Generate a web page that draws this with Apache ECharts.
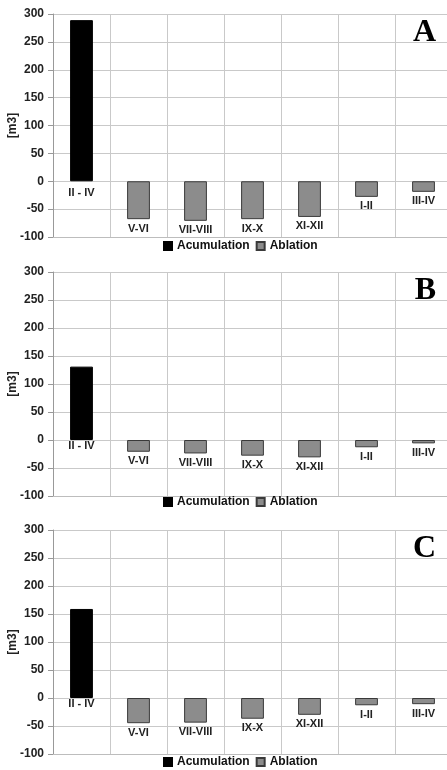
<!DOCTYPE html>
<html>
<head>
<meta charset="utf-8">
<script src="https://cdn.jsdelivr.net/npm/echarts@6/dist/echarts.min.js"></script>
<style>
html,body{margin:0;padding:0;background:#fff;}
#c{width:447px;height:770px;}
</style>
</head>
<body>
<div id="c"></div>
<script>
// ---- data ----
const categories = ['II - IV', 'V-VI', 'VII-VIII', 'IX-X', 'XI-XII', 'I-II', 'III-IV'];
const panelLetters = ['A', 'B', 'C'];
const seriesNames = ['Acumulation', 'Ablation'];
const yTicks = { min: -100, max: 300, interval: 50 };
const accumulationA = [289, null, null, null, null, null, null];
const ablationA     = [null, -68, -71, -68, -64, -28, -19];
const accumulationB = [131, null, null, null, null, null, null];
const ablationB     = [null, -21, -24, -28, -31, -13, -6];
const accumulationC = [159, null, null, null, null, null, null];
const ablationC     = [null, -45, -44, -37, -30, -13, -11];
const accumulations = [accumulationA, accumulationB, accumulationC];
const ablations = [ablationA, ablationB, ablationC];

// ---- layout / style ----
const FONT = '"Liberation Sans", Arial, sans-serif';
const gridTops = [14, 272, 530];
const gridHeights = [223, 224, 224];
const legendTops = [240, 496, 756];
const accLabelOffsets = [[0, 2], [0, -4], [0, -4]];
const GRID_LEFT = 53, GRID_WIDTH = 399;
const LINE = '#c9c9c9';

const grids = [], xAxes = [], yAxes = [], series = [], legends = [], graphics = [];
for (let i = 0; i < 3; i++) {
  grids.push({ left: GRID_LEFT, top: gridTops[i], width: GRID_WIDTH, height: gridHeights[i],
               containLabel: false, outerBoundsMode: 'none' });
  xAxes.push({
    type: 'category', gridIndex: i, data: categories,
    axisLabel: { show: false }, axisTick: { show: false },
    axisLine: { show: true, onZero: false, lineStyle: { color: '#bdbdbd', width: 1 } },
    splitLine: { show: true, lineStyle: { color: LINE, width: 1 } }
  });
  yAxes.push({
    type: 'value', gridIndex: i, min: yTicks.min, max: yTicks.max, interval: yTicks.interval,
    name: '[m3]', nameLocation: 'middle', nameGap: 34, nameMoveOverlap: false,
    nameTextStyle: { fontFamily: FONT, fontWeight: 'bold', fontSize: 12, color: '#222' },
    axisLabel: { fontFamily: FONT, fontWeight: 'bold', fontSize: 12, color: '#222', margin: 9 },
    axisTick: { show: true, length: 5, lineStyle: { color: '#999' } },
    axisLine: { show: true, lineStyle: { color: '#999', width: 1 } },
    splitLine: { show: true, lineStyle: { color: LINE, width: 1 } }
  });
  const labelBase = {
    show: true, position: 'bottom', distance: 4,
    formatter: p => p.name,
    fontFamily: FONT, fontWeight: 'bold', fontSize: 11, color: '#222'
  };
  series.push({
    name: seriesNames[0], type: 'bar', xAxisIndex: i, yAxisIndex: i, stack: 's' + i,
    barWidth: '40%', data: accumulations[i],
    itemStyle: { color: '#000', borderColor: '#000', borderWidth: 1 },
    label: Object.assign({}, labelBase, { offset: accLabelOffsets[i] })
  });
  series.push({
    name: seriesNames[1], type: 'bar', xAxisIndex: i, yAxisIndex: i, stack: 's' + i,
    barWidth: '40%', data: ablations[i],
    itemStyle: { color: '#8c8c8c', borderColor: '#3a3a3a', borderWidth: 1 },
    label: labelBase
  });
  legends.push({
    top: legendTops[i], left: 163, padding: 0, itemGap: 6,
    itemWidth: 8, itemHeight: 8, icon: 'rect',
    data: seriesNames,
    textStyle: { fontFamily: FONT, fontWeight: 'bold', fontSize: 12, color: '#111' }
  });
  graphics.push({
    type: 'text', right: 11, top: gridTops[i] + 3,
    style: { text: panelLetters[i], font: 'bold 32px "Liberation Serif", "Times New Roman", serif', fill: '#000' }
  });
}

const chart = echarts.init(document.getElementById('c'), null, { renderer: 'canvas' });
chart.setOption({
  backgroundColor: '#fff',
  animation: false,
  grid: grids, xAxis: xAxes, yAxis: yAxes, series: series, legend: legends,
  graphic: graphics
});
</script>
</body>
</html>
